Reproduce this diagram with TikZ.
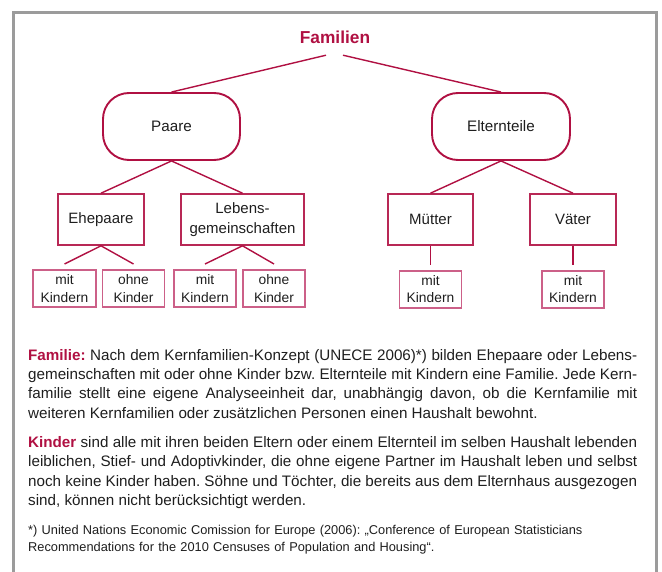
\documentclass[tikz,border=0pt]{standalone}
\usepackage{fontspec}
\setmainfont{Liberation Sans}
\usetikzlibrary{positioning}
\definecolor{famred}{RGB}{176,16,66}
\definecolor{leafred}{RGB}{204,96,136}
\definecolor{framegray}{RGB}{155,155,155}
\definecolor{txt}{RGB}{30,30,30}
\tikzset{
  pill/.style  = {rectangle, rounded corners=26pt, draw=famred, line width=1.9pt,
                  minimum width=137pt, minimum height=67pt, text=txt,
                  font=\fontsize{15.2}{18}\selectfont},
  box/.style   = {rectangle, draw=famred!90, line width=1.6pt, minimum height=51pt,
                  align=center, text=txt, inner sep=2pt,
                  font=\fontsize{15}{20.5}\selectfont},
  leaf/.style  = {rectangle, draw=leafred, line width=1.5pt, minimum height=37pt,
                  minimum width=62pt, align=center, text=txt, inner sep=1pt,
                  outer ysep=6pt, font=\fontsize{13.8}{17.5}\selectfont},
  link/.style  = {draw=famred, line width=1.4pt},
  note/.style  = {anchor=base west, inner sep=0pt, text width=609pt, align=justify,
                  text=txt, font=\fontsize{15.2}{19.5}\selectfont\frenchspacing}
}

\begin{document}
\begin{tikzpicture}[x=1pt, y=-1pt, node distance=19pt]
    \useasboundingbox (0,0) rectangle (662,572);
    \draw[framegray, line width=3pt] (13,576) -- (13,13) -- (656,13) -- (656,576);

    \node[text=famred, minimum height=36pt, inner sep=0pt,
          font=\bfseries\fontsize{17.3}{20}\selectfont] (fam) at (335,37) {Familien};
    \node[pill] (paare) at (171.5,126.5) {Paare};
    \node[pill, minimum width=138pt] (eltern) at (501,126.5) {Elternteile};

    \node[box, minimum width=86pt] (ehe) at (101,219.5) {Ehepaare};
    \node[box, minimum width=123pt] (lebens) at (242.5,219.5) {Lebens-\\gemeinschaften};
    \node[box, minimum width=85pt] (muetter) at (430.5,219.5) {Mütter};
    \node[box, minimum width=86pt] (vaeter) at (573,219.5) {Väter};

    \node[leaf, minimum width=63pt] (ehemit) at (64.5,288.5) {mit\\Kindern};
    \node[leaf] (eheohne) at (133.5,288.5) {ohne\\Kinder};
    \node[leaf] (lebmit) at (205,288.5) {mit\\Kindern};
    \node[leaf] (lebohne) at (274,288.5) {ohne\\Kinder};
    \node[leaf, below=of muetter] (muemit) {mit\\Kindern};
    \node[leaf, below=of vaeter] (vaemit) {mit\\Kindern};

    \draw[link] ([xshift=-9pt]fam.south) -- (paare.north);
    \draw[link] ([xshift=8pt]fam.south) -- (eltern.north);
    \draw[link] (paare.south) -- (ehe.north); \draw[link] (paare.south) -- (lebens.north);
    \draw[link] (eltern.south) -- (muetter.north); \draw[link] (eltern.south) -- (vaeter.north);
    \draw[link] (ehe.south) -- (ehemit.north); \draw[link] (ehe.south) -- (eheohne.north);
    \draw[link] (lebens.south) -- (lebmit.north); \draw[link] (lebens.south) -- (lebohne.north);
    \draw[link] (muetter.south) -- (muemit.north);
    \draw[link] (vaeter.south) -- (vaemit.north);

    % Erlaeuterungen
    \node[note] (famtext) at (28,360) {\textcolor{famred}{\textbf{Familie:}} Nach dem Kernfamilien-Konzept (UNECE 2006)*) bilden Ehepaare oder Lebens-\linebreak gemeinschaften mit oder ohne Kinder bzw. Elternteile mit Kindern eine Familie. Jede Kern-\linebreak familie stellt eine eigene Analyseeinheit dar, unabhängig davon, ob die Kernfamilie mit\linebreak weiteren Kernfamilien oder zusätzlichen Personen einen Haushalt bewohnt.};
    \node[note] (kindtext) at (28,447) {\textcolor{famred}{\textbf{Kinder}} sind alle mit ihren beiden Eltern oder einem Elternteil im selben Haushalt lebenden\linebreak leiblichen, Stief- und Adoptivkinder, die ohne eigene Partner im Haushalt leben und selbst\linebreak noch keine Kinder haben. Söhne und Töchter, die bereits aus dem Elternhaus ausgezogen\linebreak sind, können nicht berücksichtigt werden.};
    \node[note, align=left, font=\fontsize{12.8}{17}\selectfont\frenchspacing] (foot) at (28,534) {*) United Nations Economic Comission for Europe (2006): „Conference of European Statisticians\\Recommendations for the 2010 Censuses of Population and Housing“.};
\end{tikzpicture}
\end{document}
